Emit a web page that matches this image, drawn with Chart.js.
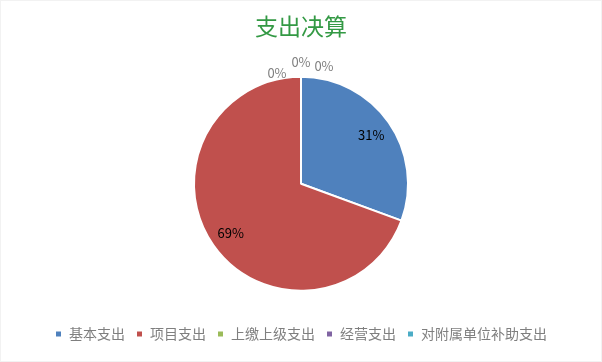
<!DOCTYPE html>
<html>
<head>
<meta charset="utf-8">
<script src="https://cdn.jsdelivr.net/npm/chart.js@4"></script>
<style>
  html, body { margin: 0; padding: 0; background: #fff; }
  #wrap { width: 600px; height: 360px; border: 1px solid #f2f2f2; }
</style>
</head>
<body>
<div id="wrap"><canvas id="myChart" width="600" height="360"></canvas></div>
<script>
const titleText = "支出决算"
const categories = ["基本支出", "项目支出", "上缴上级支出", "经营支出", "对附属单位补助支出"]
const values = [30.6, 69.4, 0, 0, 0]
const colors = ["#4F81BD", "#C0504D", "#9BBB59", "#8064A2", "#4BACC6"]

const cjk = "'Noto Sans CJK SC', 'Noto Sans', sans-serif"

// zero slices sit on top of each other, nudge their labels apart like excel does
const zeroNudge = [[-24, -111], [0, -122], [23, -118]]

const pctLabels = {
    id: "pctLabels",
    afterDatasetsDraw(chart) {
        const ctx = chart.ctx
        const meta = chart.getDatasetMeta(0)
        const total = values.reduce((a, b) => a + b, 0)
        let zi = 0
        ctx.save()
        ctx.font = "13px " + cjk
        ctx.textAlign = "center"
        ctx.textBaseline = "middle"
        meta.data.forEach(function (arc, i) {
            const pct = Math.round(values[i] / total * 100)
            const props = arc.getProps(["x", "y", "startAngle", "endAngle", "outerRadius"], true)
            let x, y
            if (values[i] === 0) {
                const n = zeroNudge[zi++] || [0, -props.outerRadius - 10]
                x = props.x + n[0]
                y = props.y + n[1]
                ctx.fillStyle = "#7f7f7f"
            } else {
                const mid = (props.startAngle + props.endAngle) / 2
                const r = props.outerRadius * 0.8
                x = props.x + Math.cos(mid) * r
                y = props.y + Math.sin(mid) * r
                ctx.fillStyle = "#000"
            }
            ctx.fillText(pct + "%", x, y)
        })
        ctx.restore()
    }
}

new Chart(document.getElementById("myChart"), {
    type: "pie",
    data: {
        labels: categories,
        datasets: [{
            data: values,
            backgroundColor: colors,
            borderColor: "#fff",
            borderWidth: 2,
            radius: 107
        }]
    },
    options: {
        responsive: false,
        animation: false,
        layout: { padding: { top: 8, bottom: 10 } },
        plugins: {
            title: {
                display: true,
                text: titleText,
                color: "#339944",
                font: { family: cjk, size: 23, weight: "normal" },
                padding: { top: 3, bottom: 12 }
            },
            legend: {
                position: "bottom",
                labels: {
                    boxWidth: 7,
                    boxHeight: 7,
                    color: "#7f7f7f",
                    font: { family: cjk, size: 14 },
                    padding: 11
                }
            },
            tooltip: { enabled: false }
        }
    },
    plugins: [pctLabels]
})
</script>
</body>
</html>
